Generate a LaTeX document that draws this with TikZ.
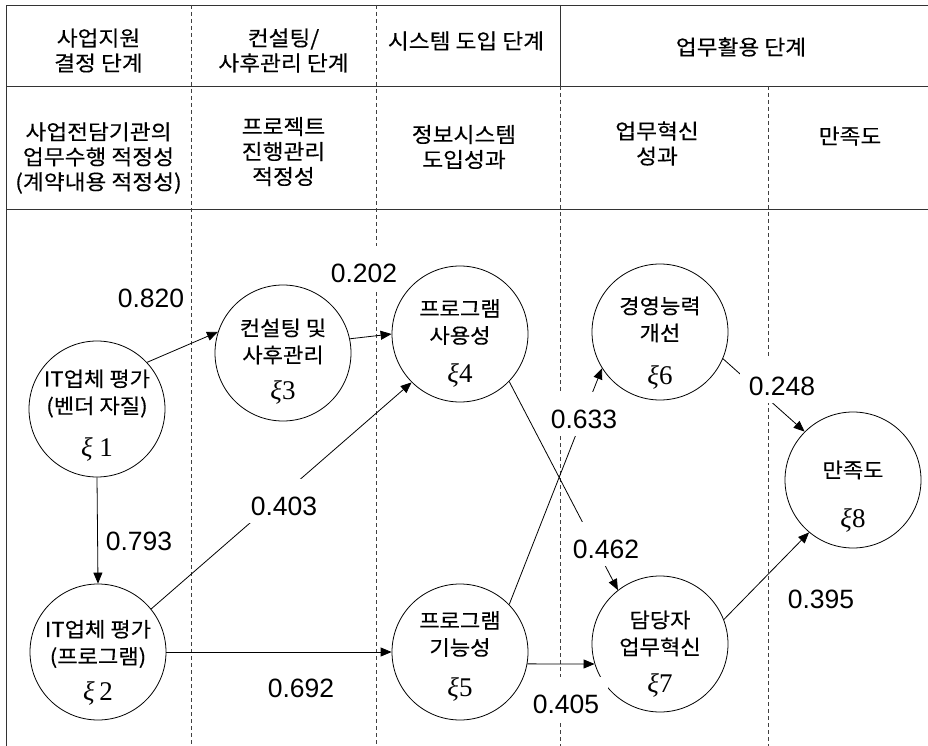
\documentclass[tikz,border=0pt]{standalone}
\usepackage{fontspec}
\setmainfont{Noto Sans CJK KR}[FakeStretch=1.08,FakeBold=0.3]
\newfontfamily\numfont{Liberation Sans}
\newfontfamily\xifont{Liberation Serif}
\usetikzlibrary{arrows.meta}
\begin{document}
\begin{tikzpicture}[x=1pt,y=-1pt,
  frame/.style={draw=black!80,line width=0.8pt},
  divider/.style={draw=black!75,line width=0.7pt,dash pattern=on 4pt off 3pt},
  hdr/.style={align=center,font=\fontsize{21}{25}\selectfont,inner sep=0pt},
  latent/.style={circle,draw,line width=0.8pt,minimum size=136pt,inner sep=0pt},
  ctext/.style={align=center,font=\fontsize{20.5}{27}\selectfont,inner sep=0pt},
  xi/.style={font=\xifont\fontsize{27}{30}\selectfont,inner sep=0pt},
  coef/.style={fill=white,font=\numfont\fontsize{26.5}{30}\selectfont,inner xsep=9pt,inner ysep=8pt,text height=28pt,text depth=0pt,anchor=base},
  link/.style={line width=0.8pt,-{Triangle[length=11pt,width=9pt]}}
]
\useasboundingbox (0,0) rectangle (928,746);
\fill[white] (0,0) rectangle (928,746);
% frame
\draw[frame] (6,746) -- (6,5) -- (928,5);
\draw[frame] (6,86) -- (928,86);
\draw[frame] (6,209) -- (928,209);
\draw[divider] (191,5) -- (191,746);
\draw[divider] (376,5) -- (376,746);
\draw[frame,line width=0.7pt] (560,5) -- (560,86);
\draw[divider] (560,86) -- (560,746);
\draw[divider] (768,86) -- (768,746);
% header row 1
\node[hdr] (h1) at (98.5,50.5) {사업지원\\결정 단계};
\node[hdr] (h2) at (283.5,50.5) {컨설팅/\\사후관리 단계};
\node[hdr] (h3) at (466,41) {시스템 도입 단계};
\node[hdr] (h4) at (741,47) {업무활용 단계};
% header row 2
\node[hdr] (s1) at (98.5,158) {사업전담기관의\\업무수행 적정성\\(계약내용 적정성)};
\node[hdr] (s2) at (283.5,151.5) {프로젝트\\진행관리\\적정성};
\node[hdr] (s3) at (464,147) {정보시스템\\도입성과};
\node[hdr] (s4) at (657,143.5) {업무혁신\\성과};
\node[hdr] (s5) at (850,136) {만족도};
% latent variables
\node[latent] (c1) at (97,409) {};
\node[latent] (c2) at (98,652) {};
\node[latent] (c3) at (283,353) {};
\node[latent] (c4) at (460,334) {};
\node[latent] (c5) at (460,652) {};
\node[latent] (c6) at (660,332) {};
\node[latent] (c7) at (660,644) {};
\node[latent] (c8) at (853,480) {};
\node[ctext] (t1) at ([yshift=15.5pt]c1.center) {IT업체 평가\\(벤더 자질)};
\node[ctext] (t2) at ([yshift=8pt]c2.center) {IT업체 평가\\(프로그램)};
\node[ctext] (t3) at ([yshift=11.5pt]c3.center) {컨설팅 및\\사후관리};
\node[ctext] (t4) at ([yshift=12pt]c4.center) {프로그램\\사용성};
\node[ctext] (t5) at ([yshift=18pt]c5.center) {프로그램\\기능성};
\node[ctext] (t6) at ([yshift=12.5pt]c6.center) {경영능력\\개선};
\node[ctext] (t7) at ([yshift=10.5pt]c7.center) {담당자\\업무혁신};
\node[ctext] (t8) at ([yshift=10pt]c8.center) {만족도};
\node[xi] (x1) at ([yshift=-40pt]c1.center) {{\itshape ξ}\ 1};
\node[xi] (x2) at ([yshift=-41pt]c2.center) {{\itshape ξ}\,2};
\node[xi] (x3) at ([yshift=-39pt]c3.center) {{\itshape ξ}3};
\node[xi] (x4) at ([yshift=-41pt]c4.center) {{\itshape ξ}4};
\node[xi] (x5) at ([yshift=-37pt]c5.center) {{\itshape ξ}5};
\node[xi] (x6) at ([yshift=-45pt]c6.center) {{\itshape ξ}6};
\node[xi] (x7) at ([yshift=-41pt]c7.center) {{\itshape ξ}7};
\node[xi] (x8) at ([yshift=-40pt]c8.center) {{\itshape ξ}8};
% paths
\draw[link] (c1.43) -- (c3.162);
\draw[link] (c3.12) -- (c4.180);
\draw[link] (c1.270) -- (c2.90);
\draw[link] (c2.39) -- (c4.225);
\draw[link] (c2.0) -- (c5.180);
\draw[link] (c4.-44) -- (c7.128);
\draw[link] (c5.44) -- (c6.212);
\draw[link] (c5.-10) -- (c7.-163);
\draw[link] (c6.-23) -- (c8.135);
\draw[link] (c7.21) -- (c8.230);
% coefficients
\node[coef,inner xsep=3pt] (l820) at (151,307) {0.820};
\node[coef] (l202) at (364,282) {0.202};
\node[coef] (l403) at (284,515) {0.403};
\node[coef,fill=none] (l793) at (139,550) {0.793};
\node[coef] (l692) at (301,697) {0.692};
\node[coef] (l633) at (584,428) {0.633};
\node[coef] (l248) at (782,395) {0.248};
\node[coef] (l462) at (606,558) {0.462};
\node[coef] (l405) at (566,713) {0.405};
\node[coef] (l395) at (821,608) {0.395};
\end{tikzpicture}
\end{document}
